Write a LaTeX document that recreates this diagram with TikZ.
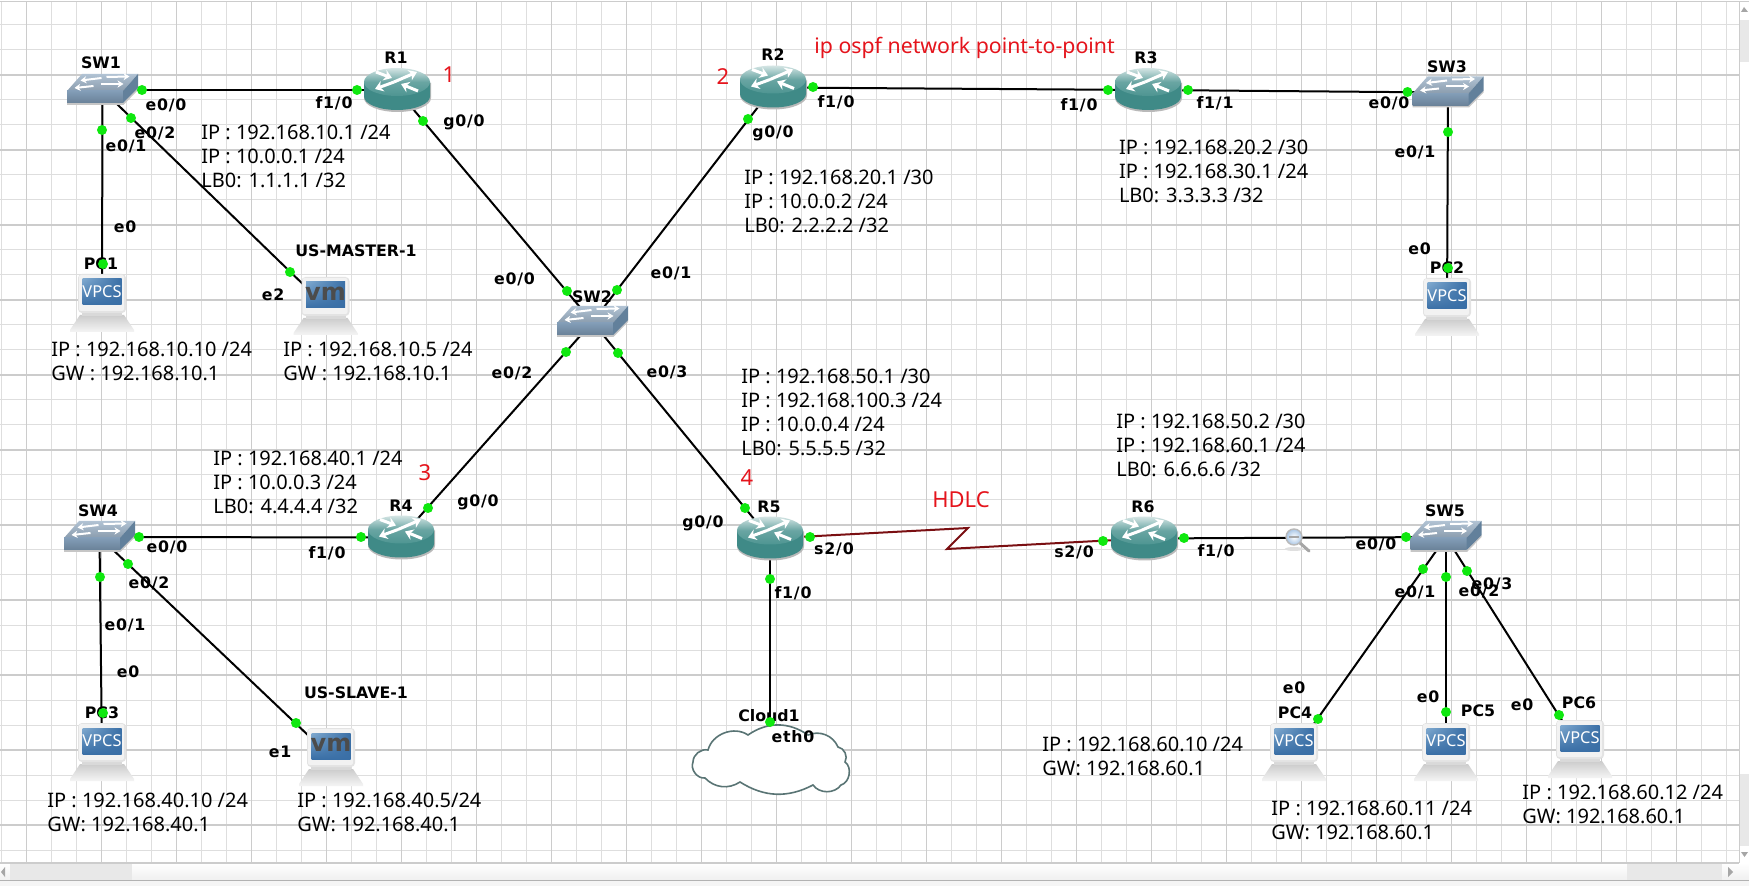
\documentclass[tikz,border=0pt]{standalone}
\usepackage{fontspec}
\setmainfont{Noto Sans}
\newfontfamily\lblfont{DejaVu Sans}
\newfontfamily\portfont{DejaVu Sans}[LetterSpace=5]
\usetikzlibrary{arrows.meta,calc,shadings}
\definecolor{gridminor}{HTML}{DEDEDE}
\definecolor{gridmajor}{HTML}{CCCCCC}
\definecolor{dotgreen}{HTML}{0FE80F}
\definecolor{teal1}{HTML}{3F8A87}
\definecolor{teal2}{HTML}{4E9592}
\definecolor{serialred}{HTML}{7A0F12}
\definecolor{swtop}{HTML}{A3B8CC}
\definecolor{swfront}{HTML}{7C98B3}
\definecolor{swside}{HTML}{62809B}
\definecolor{redtxt}{HTML}{E5141C}
\definecolor{scrbar}{HTML}{E8E8E8}
\definecolor{scrA}{HTML}{7FA9CF}
\definecolor{scrB}{HTML}{3A6FA6}
\definecolor{magblue}{HTML}{A9C6E6}
\tikzset{
  dev/.style={inner sep=0pt,minimum size=1pt,shape=circle},
  link/.style={draw=black,line width=1pt},
  seriallink/.style={draw=serialred,line width=1pt},
  portdot/.style={circle,fill=dotgreen,draw=none,inner sep=0pt,minimum size=5pt},
  namelbl/.style={font=\lblfont\bfseries\fontsize{7.9}{9}\selectfont,inner sep=0pt,text=black},
  portlbl/.style={font=\portfont\bfseries\fontsize{7.9}{9}\selectfont,inner sep=0pt,text=black},
  ipblock/.style={anchor=west,align=left,inner sep=0pt,font=\fontsize{10}{12}\selectfont,text=black},
  redlbl/.style={font=\fontsize{11}{13}\selectfont,inner sep=0pt,text=redtxt},
  wharrow/.style={draw=white,line width=1pt,-{Stealth[length=3pt,width=3.6pt]}},
  rtarrow/.style={draw=white,line width=1.5pt,-{Stealth[length=4pt,width=5.5pt]}},
  routericon/.pic={
    \fill[gray!55] (-33,-7) -- (-33,8) arc[start angle=180,end angle=0,x radius=33.5,y radius=14] -- (34,-7) -- cycle;
    \fill[teal1] (-33,-8) -- (-33,6.5) arc[start angle=180,end angle=0,x radius=33,y radius=13.5] -- (33,-8) -- cycle;
    \shade[left color=white!78!teal1,right color=teal2,middle color=teal2!85!white,shading angle=0] (0,-8) ellipse[x radius=33,y radius=14];
    \draw[rtarrow] (-3,-8) -- (20,-18);
    \draw[rtarrow] (-3,-8) -- (-22,-1);
    \draw[rtarrow] (-21,-18) -- (-5,-12);
    \draw[rtarrow] (21,1) -- (4,-6);
  },
  switchicon/.pic={
    \fill[gray!45] (-35.5,2) -- (-35.5,15) -- (21,15) -- (35.5,0) -- (35.5,-2) -- cycle;
    \shade[top color=swtop!85!white,bottom color=swtop!85!black] (-20.5,-16) -- (35.5,-16) -- (20.5,1) -- (-35.5,1) -- cycle;
    \shade[top color=swfront!95!white,bottom color=swfront!85!black] (-35.5,1) -- (20.5,1) -- (20.5,13) -- (-35.5,13) -- cycle;
    \fill[swside] (20.5,1) -- (35.5,-16) -- (35.5,-2) -- (20.5,13) -- cycle;
    \draw[wharrow] (4,-13) -- (27,-13.5);
    \draw[wharrow] (-1,-12) -- (-22,-9.5);
    \draw[wharrow] (-2,-6) -- (21,-6);
    \draw[wharrow] (-9,-4) -- (-28,-2);
  },
  pcbody/.pic={
    \shade[top color=gray!40,bottom color=gray!8] (-22,12) -- (22,12) -- (32,27) -- (32,29) -- (-32,29) -- (-32,27) -- cycle;
    \fill[gray!30] (-20,9) rectangle (20,13);
    \fill[gray!22,rounded corners=2pt] (-24,-29) rectangle (24,10);
    \fill[gray!10,rounded corners=1pt] (-23,-28) rectangle (22,8);
    \shade[upper left=scrA,upper right=scrB,lower left=scrB,lower right=scrB] (-19.5,-24) rectangle (19.5,2);
  },
  vpcsicon/.pic={
    \pic {pcbody};
    \node[inner sep=0pt,text=white,font=\fontsize{8.2}{9}\selectfont] (tx) at (0,-11) {VPCS};
  },
  vmicon/.pic={
    \pic {pcbody};
    \node[inner sep=0pt,text=black!70,font=\lblfont\bfseries\fontsize{12}{13}\selectfont] (tx) at (0,-12) {vm};
  },
  cloudicon/.pic={
    \draw[draw=black!30!teal!30!gray,fill=white,line width=.8pt]
      (-62,-10) to[bend left=55] (-22,-25) to[bend left=35] (38,-25) to[bend left=45] (68,-13)
      to[bend left=55] (75,2) to[bend left=65] (71,25) to[bend left=55] (43,25) to[bend left=30] (-30,22)
      to[bend left=40] (-65,18) to[bend left=60] (-77,2) to[bend left=50] cycle;
  }
}
\begin{document}
\begin{tikzpicture}[x=0.5pt,y=-0.5pt]
\useasboundingbox (0,0) rectangle (1749,886);
\fill[white] (0,0) rectangle (1749,886);
% frame and grid
\draw[gridmajor,line width=.9pt] (0,1.5) -- (1749,1.5);
\foreach \gx in {1.5,26.5,...,1739} \draw[gridminor,line width=.5pt] (\gx,2) -- (\gx,863);
\foreach \gy in {25,50,...,850} \draw[gridminor,line width=.5pt] (0,\gy) -- (1739,\gy);
\foreach \gx in {26.5,101.5,...,1739} \draw[gridmajor,line width=.7pt] (\gx,2) -- (\gx,863);
\foreach \gy in {75,150,...,850} \draw[gridmajor,line width=.7pt] (0,\gy) -- (1739,\gy);
% scrollbars
\shade[top color=white,bottom color=gray!12] (0,863) rectangle (1749,880);
\fill[gray!18] (10,863) rectangle (132,880);
\fill[gray!18] (1627,863) rectangle (1722,880);
\draw[gridmajor,line width=.7pt] (0,863) -- (1739,863);
\draw[gray!60,line width=.6pt] (0,880.5) -- (1749,880.5);
\fill[gray!8] (0,881) rectangle (1749,886);
\fill[white] (1739.5,2) rectangle (1749,863);
\draw[gridmajor,line width=.5pt] (1739.5,2) -- (1739.5,863);
\fill[scrbar] (1740,20) rectangle (1749,62);
\fill[scrbar] (1740,774) rectangle (1749,846);
\fill[gray!70] (1744,7) -- (1741,12) -- (1748,12) -- cycle;
\fill[gray!70] (1741,852) -- (1748,852) -- (1744.5,857) -- cycle;
\fill[gray!70] (5,867) -- (1,872) -- (5,877) -- cycle;
\fill[gray!70] (1728,867) -- (1733,872) -- (1728,877) -- cycle;
% device anchors
\node[dev] (SW1) at (102.5,90) {};
\node[dev] (R1) at (397,90) {};
\node[dev] (PC1) at (102,303) {};
\node[dev] (VM1) at (325.5,306) {};
\node[dev] (R2) at (773,87.5) {};
\node[dev] (R3) at (1148,90) {};
\node[dev] (SW3) at (1448,92.5) {};
\node[dev] (PC2) at (1447,307) {};
\node[dev] (SW2) at (592.5,322) {};
\node[dev] (SW4) at (99.5,537) {};
\node[dev] (R4) at (401,537.5) {};
\node[dev] (PC3) at (102,752) {};
\node[dev] (VM2) at (331,757) {};
\node[dev] (R5) at (770,538.5) {};
\node[dev] (R6) at (1144,538.5) {};
\node[dev] (SW5) at (1446,537) {};
\node[dev] (PC4) at (1294,752) {};
\node[dev] (PC5) at (1446,752) {};
\node[dev] (PC6) at (1580,749) {};
\node[dev] (CL) at (770,760) {};
\coordinate (zig1) at (968,528);
\coordinate (zig2) at (947,549);
% links
\draw[link] (SW1) -- (R1);
\draw[link] (SW1) -- (PC1);
\draw[link] (SW1) -- (VM1);
\draw[link] (R1) -- (SW2);
\draw[link] (R2) -- (SW2);
\draw[link] (R2) -- (R3);
\draw[link] (R3) -- (SW3);
\draw[link] (SW3) -- (PC2);
\draw[link] (SW2) -- (R4);
\draw[link] (SW2) -- (R5);
\draw[link] (SW4) -- (R4);
\draw[link] (SW4) -- (PC3);
\draw[link] (SW4) -- (VM2);
\draw[link] (R6) -- (SW5);
\draw[link] (SW5) -- (PC4);
\draw[link] (SW5) -- (PC5);
\draw[link] (SW5) -- (PC6);
\draw[link] (R5) -- (CL);
\draw[seriallink,line join=miter] (R5) -- (zig1) -- (zig2) -- (R6);
\pic (cl) at (CL) {cloudicon};
% magnifier
\fill[gray!25] (1294,549) ellipse[x radius=9,y radius=2];
\draw[gray!70,line width=1.5pt,line cap=round] (1300,543) -- (1309,551);
\shade[draw=gray!55,line width=.7pt,inner color=white,outer color=magblue] (1294,537) circle[radius=8];
\draw[gray!70,line width=.6pt] (1289,537) -- (1299,537);
% icons
\pic (i1) at (SW1) {switchicon};
\pic (i2) at (SW2) {switchicon};
\pic (i3) at (SW3) {switchicon};
\pic (i4) at (SW4) {switchicon};
\pic (i5) at (SW5) {switchicon};
\pic (i6) at (R1) {routericon};
\pic (i7) at (R2) {routericon};
\pic (i8) at (R3) {routericon};
\pic (i9) at (R4) {routericon};
\pic (i10) at (R5) {routericon};
\pic (i11) at (R6) {routericon};
\pic (i12) at (PC1) {vpcsicon};
\pic (i13) at (PC2) {vpcsicon};
\pic (i14) at (PC3) {vpcsicon};
\pic (i15) at (PC4) {vpcsicon};
\pic (i16) at (PC5) {vpcsicon};
\pic (i17) at (PC6) {vpcsicon};
\pic (i18) at (VM1) {vmicon};
\pic (i19) at (VM2) {vmicon};
% device names
\foreach \px/\py/\tt [count=\i] in {
 101/63/SW1, 396/58/R1, 101/264/PC1, 356/251/US-MASTER-1,
 773/55/R2, 1146/58/R3, 1447/67/SW3, 1447/268/PC2,
 592/297/SW2, 769/507/R5, 401/506/R4,
 98/511/SW4, 102/713/PC3, 356/693/US-SLAVE-1,
 1143/507/R6, 769/716/Cloud1,
 1445/511/SW5, 1295/713/PC4, 1478/711/PC5, 1579/703/PC6}
  \node[namelbl] (nm\i) at (\px,\py) {\tt};
% port labels
\foreach \px/\py/\tt [count=\i] in {
 166/105/{e0/0}, 334/103/{f1/0}, 464/122/{g0/0}, 155/133/{e0/2}, 126/146/{e0/1},
 125/227/e0, 273/295/e2,
 836/102/{f1/0}, 773/133/{g0/0}, 1079/105/{f1/0}, 1215/103/{f1/1}, 1389/103/{e0/0},
 1415/152/{e0/1}, 1419.5/249/e0,
 514.5/279/{e0/0}, 671/273/{e0/1}, 512/373/{e0/2}, 667/372/{e0/3},
 478/502/{g0/0}, 703/523/{g0/0},
 167/547/{e0/0}, 327/553/{f1/0}, 149/583/{e0/2}, 125/625/{e0/1}, 128/672/e0,
 280/752/e1,
 834/549/{s2/0}, 793/593/{f1/0}, 1074/552/{s2/0}, 793/737/eth0,
 1216/551/{f1/0}, 1376/544/{e0/0}, 1415/592/{e0/1}, 1479/591/{e0/2}, 1492/584/{e0/3},
 1294/688/e0, 1428/697/e0, 1522/705/e0}
  \node[portlbl] (lb\i) at (\px,\py) {\tt};
% red notes
\node[redlbl] (n1) at (449,75) {1};
\node[redlbl] (n2) at (723,77) {2};
\node[redlbl] (n3) at (425,473) {3};
\node[redlbl] (n4) at (747,478) {4};
\node[redlbl,anchor=west,font=\fontsize{10.65}{13}\selectfont] (n5) at (814,48) {ip ospf network point-to-point};
\node[redlbl] (n6) at (961,500) {HDLC};
% address blocks
\node[ipblock] (b1) at (201,156) {IP : 192.168.10.1 /24\\IP : 10.0.0.1 /24\\LB0: 1.1.1.1 /32};
\node[ipblock] (b2) at (51,361) {IP : 192.168.10.10 /24\\GW : 192.168.10.1};
\node[ipblock] (b3) at (283,361) {IP : 192.168.10.5 /24\\GW : 192.168.10.1};
\node[ipblock] (b4) at (744,201) {IP : 192.168.20.1 /30\\IP : 10.0.0.2 /24\\LB0: 2.2.2.2 /32};
\node[ipblock] (b5) at (1118.6,171) {IP : 192.168.20.2 /30\\IP : 192.168.30.1 /24\\LB0: 3.3.3.3 /32};
\node[ipblock] (b6) at (741,412) {IP : 192.168.50.1 /30\\IP : 192.168.100.3 /24\\IP : 10.0.0.4 /24\\LB0: 5.5.5.5 /32};
\node[ipblock] (b7) at (1116,445) {IP : 192.168.50.2 /30\\IP : 192.168.60.1 /24\\LB0: 6.6.6.6 /32};
\node[ipblock] (b8) at (213,482) {IP : 192.168.40.1 /24\\IP : 10.0.0.3 /24\\LB0: 4.4.4.4 /32};
\node[ipblock] (b9) at (47,812) {IP : 192.168.40.10 /24\\GW: 192.168.40.1};
\node[ipblock] (b10) at (297,812.5) {IP : 192.168.40.5/24\\GW: 192.168.40.1};
\node[ipblock] (b11) at (1042,756) {IP : 192.168.60.10 /24\\GW: 192.168.60.1};
\node[ipblock] (b12) at (1271,820) {IP : 192.168.60.11 /24\\GW: 192.168.60.1};
\node[ipblock] (b13) at (1522,804) {IP : 192.168.60.12 /24\\GW: 192.168.60.1};
% port dots
\foreach \px/\py [count=\i] in {
 142/90, 357/90, 102/130, 103/264, 131/118, 290/272, 423/121, 567/291,
 748/119, 617/290, 813/87, 1108/90, 1188/90, 1407.5/92, 1448/132, 1448/268,
 566/352, 428/508, 618/353, 745/508, 139/537, 361/537, 100/577, 103/713,
 128/564, 296/723, 810/537, 1103/541, 770/579, 770/722, 1184/538, 1406/537,
 1423/569, 1318/719, 1446/577, 1446/712, 1467/571, 1559/715}
  \node[portdot] (d\i) at (\px,\py) {};
\end{tikzpicture}
\end{document}
